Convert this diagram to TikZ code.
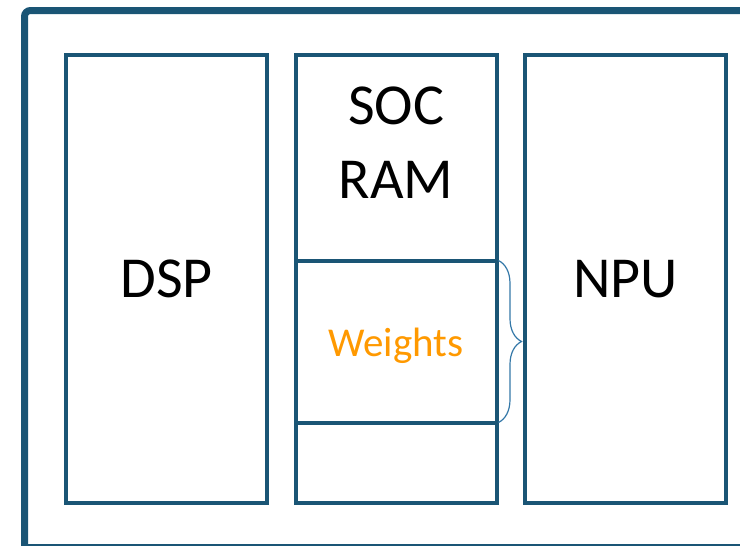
\documentclass[tikz,border=0pt]{standalone}
\usepackage{fontspec}
\setmainfont{Carlito}
\usetikzlibrary{positioning,decorations.pathreplacing}
\definecolor{boxblue}{RGB}{26,85,117}
\definecolor{braceblue}{RGB}{52,120,168}
\definecolor{weightorange}{RGB}{255,153,0}
\tikzset{
  unit/.style={draw=boxblue, line width=4pt, minimum width=201pt, inner sep=0pt, outer sep=0pt},
  bigtext/.style={font=\fontsize{58}{74}\selectfont, text=black, inner sep=0pt},
}
\begin{document}
\begin{tikzpicture}[x=1pt,y=-1pt]
\path[use as bounding box, clip] (0,0) rectangle (740,546);
% chip outline, runs off the right and bottom
\draw[boxblue, line width=7pt, rounded corners=6pt] (24.5,547.5) -- (24.5,10.5) -- (780,10.5);
\draw[boxblue, line width=7pt] (24.5,547.5) -- (780,547.5);

\node[unit, minimum height=448pt, bigtext] (dsp) at (166.5,279) {DSP};
\node[unit, minimum height=205.5pt, anchor=north] (socram) at (396,55) {};
\node[unit, minimum height=162pt, anchor=north] (weights) at (socram.south) {};
\node[unit, minimum height=80.5pt, anchor=north] (spare) at (weights.south) {};
\node[unit, minimum height=448pt, bigtext] (npu) at (625.5,279) {NPU};

\node[bigtext, align=center, anchor=base] (soctext) at (396,198) {SOC\\RAM};
\node[font=\fontsize{41}{48}\selectfont, text=weightorange, inner sep=0pt, anchor=base]
  (wtext) at (396,356) {Weights};

% weights feed the NPU
\draw[braceblue, line width=1.2pt, decorate, decoration={brace, amplitude=23pt, raise=2pt}]
  (weights.north east) -- (weights.south east);
\end{tikzpicture}
\end{document}
